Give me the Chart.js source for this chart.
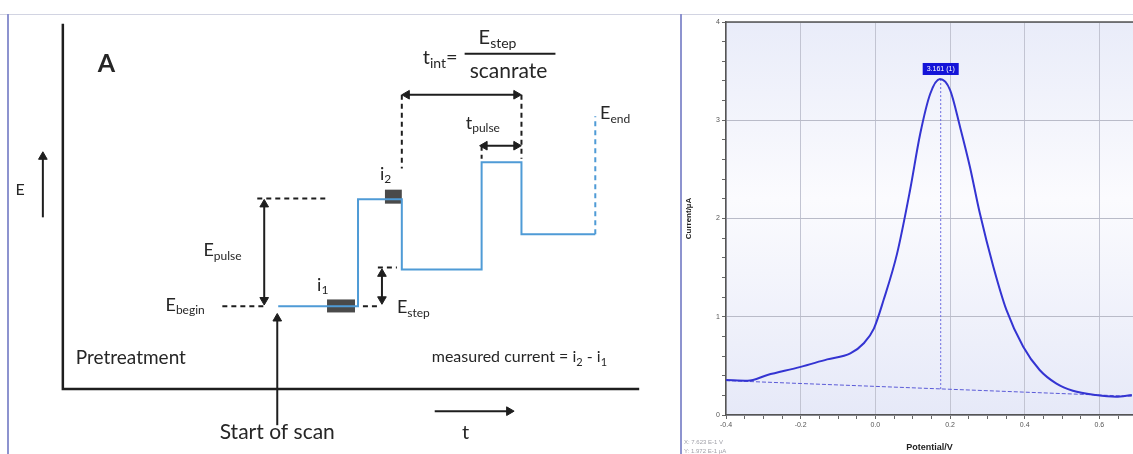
<!DOCTYPE html>
<html>
<head>
<meta charset="utf-8">
<script src="https://cdn.jsdelivr.net/npm/chart.js@4.4.0/dist/chart.umd.min.js"></script>
<style>
  body { margin: 0; background: #fff; width: 1133px; height: 454px; position: relative; overflow: hidden; }
  #topline { position: absolute; left: 0; top: 14px; width: 1133px; height: 1px; background: #d2d4e2; }
  .edge { position: absolute; top: 14px; width: 2px; height: 440px; background: #8d93cf; }
  #wrapA { position: absolute; left: 9px; top: 15px; }
  #wrapB { position: absolute; left: 682px; top: 14px; }
</style>
</head>
<body>
<div id="topline"></div>
<div class="edge" style="left:7px"></div>
<div class="edge" style="left:680px"></div>
<div id="wrapA"><canvas id="chartA" width="671" height="439"></canvas></div>
<div id="wrapB"><canvas id="chartB" width="451" height="440"></canvas></div>

<script>
// ---- Panel A: square wave voltammetry schematic ----
// t in step periods, E in units of E_step
const waveT = [0, 0.667, 0.667, 1.033, 1.033, 1.7, 1.7, 2.033, 2.033, 2.65];
const waveE = [0, 0, 2.9, 2.9, 1, 1, 3.9, 3.9, 1.95, 1.95];
const endT = [2.65, 2.65];
const endE = [1.95, 5.15];
const axisT = [-1.8, -1.8, 3.017];
const axisE = [7.65, -2.24, -2.24];

// sampling windows i1, i2
const i1T = [0.408, 0.642], i1E = [0.01, 0.01];
const i2T = [0.892, 1.033], i2E = [2.97, 2.97];

// dashed guide lines [t1, e1, t2, e2]
const guides = [
  [-0.467, 0, -0.12, 0],
  [-0.175, 2.92, 0.417, 2.92],
  [0.833, 1.05, 0.992, 1.05],
  [0.708, 0, 0.85, 0],
  [1.033, 5.73, 1.033, 3.73],
  [2.033, 5.73, 2.033, 4.0],
  [1.7, 4.35, 1.7, 4.0]
];

// arrows: [t1, e1, t2, e2, headAtStart, headAtEnd]
const arrows = [
  [-1.967, 2.41, -1.967, 4.05, false, true],
  [-0.117, 0.17, -0.117, 2.76, true, true],
  [-0.008, -3.22, -0.008, -0.33, false, true],
  [0.867, 0.19, 0.867, 0.88, true, true],
  [1.075, 5.73, 1.99, 5.73, true, true],
  [1.725, 4.35, 1.99, 4.35, true, true],
  [1.308, -2.84, 1.93, -2.84, false, true]
];

// text: parts [text, isSub]
const labelsA = [
  { parts: [['A', 0]], t: -1.508, e: 6.57, size: 25, bold: true, align: 'left' },
  { parts: [['E', 0]], t: -2.158, e: 3.16, size: 16, align: 'center' },
  { parts: [['E', 0], ['pulse', 1]], t: -0.625, e: 1.51, size: 18, align: 'left' },
  { parts: [['E', 0], ['begin', 1]], t: -0.942, e: 0.03, size: 18, align: 'left' },
  { parts: [['i', 0], ['1', 1]], t: 0.325, e: 0.58, size: 18, align: 'left' },
  { parts: [['i', 0], ['2', 1]], t: 0.85, e: 3.58, size: 18, align: 'left' },
  { parts: [['E', 0], ['step', 1]], t: 0.992, e: -0.03, size: 18, align: 'left' },
  { parts: [['t', 0], ['pulse', 1]], t: 1.567, e: 4.97, size: 18, align: 'left' },
  { parts: [['E', 0], ['end', 1]], t: 2.69, e: 5.22, size: 18, align: 'left' },
  { parts: [['t', 0], ['int', 1], ['=', 0]], t: 1.208, e: 6.73, size: 20, align: 'left' },
  { parts: [['E', 0], ['step', 1]], t: 1.833, e: 7.27, size: 20, align: 'center' },
  { parts: [['scanrate', 0]], t: 1.925, e: 6.38, size: 21, align: 'center' },
  { parts: [['Pretreatment', 0]], t: -1.692, e: -1.41, size: 19, align: 'left' },
  { parts: [['measured current = i', 0], ['2', 1], [' - i', 0], ['1', 1]], t: 1.283, e: -1.38, size: 16, align: 'left' },
  { parts: [['Start of scan', 0]], t: -0.008, e: -3.41, size: 21, align: 'center' },
  { parts: [['t', 0]], t: 1.567, e: -3.43, size: 20, align: 'center' }
];
const fractionT = [1.558, 2.317], fractionE = [6.84, 6.84];

const fontA = 'Lato, "Open Sans", sans-serif';
const blueA = '#4f9bd6';
const inkA = '#1e1e1e';

function pts(ts, es) {
  return ts.map((t, i) => ({ x: t, y: es[i] }));
}

function lineSet(ts, es, color, width, dash) {
  return {
    data: pts(ts, es),
    borderColor: color,
    borderWidth: width,
    borderDash: dash || [],
    borderCapStyle: 'butt',
    pointRadius: 0,
    fill: false,
    tension: 0
  };
}

const datasetsA = [];
datasetsA.push(lineSet(axisT, axisE, inkA, 2.5));
datasetsA.push(lineSet(waveT, waveE, blueA, 2));
datasetsA.push(lineSet(endT, endE, blueA, 2, [5, 4]));
datasetsA.push(lineSet(i1T, i1E, '#4a4a4a', 13));
datasetsA.push(lineSet(i2T, i2E, '#4a4a4a', 14));
datasetsA.push(lineSet(fractionT, fractionE, inkA, 2));
guides.forEach(g => {
  datasetsA.push(lineSet([g[0], g[2]], [g[1], g[3]], inkA, 2, [5, 4]));
});
arrows.forEach(a => {
  const vertical = a[0] === a[2];
  const upOrRight = vertical ? a[3] > a[1] : a[2] > a[0];
  const endRot = vertical ? (upOrRight ? 0 : 180) : (upOrRight ? 90 : 270);
  const startRot = (endRot + 180) % 360;
  const ds = lineSet([a[0], a[2]], [a[1], a[3]], inkA, 2);
  ds.pointStyle = 'triangle';
  ds.pointRadius = [a[4] ? 5 : 0, a[5] ? 5 : 0];
  ds.pointRotation = [startRot, endRot];
  ds.pointBackgroundColor = inkA;
  ds.pointBorderColor = inkA;
  ds.pointBorderWidth = 1;
  datasetsA.push(ds);
});

const labelPluginA = {
  id: 'labelsA',
  afterDatasetsDraw(chart) {
    const ctx = chart.ctx;
    const sx = chart.scales.x, sy = chart.scales.y;
    ctx.save();
    ctx.fillStyle = '#262626';
    ctx.textBaseline = 'middle';
    ctx.textAlign = 'left';
    labelsA.forEach(l => {
      const subSize = Math.round(l.size * 0.68);
      const weight = l.bold ? 'bold ' : '';
      let total = 0;
      const widths = l.parts.map(p => {
        ctx.font = weight + (p[1] ? subSize : l.size) + 'px ' + fontA;
        const w = ctx.measureText(p[0]).width;
        total += w;
        return w;
      });
      let x = sx.getPixelForValue(l.t);
      const y = sy.getPixelForValue(l.e);
      if (l.align === 'center') x -= total / 2;
      l.parts.forEach((p, i) => {
        ctx.font = weight + (p[1] ? subSize : l.size) + 'px ' + fontA;
        ctx.fillText(p[0], x, p[1] ? y + l.size * 0.3 : y);
        x += widths[i];
      });
    });
    ctx.restore();
  }
};

new Chart(document.getElementById('chartA'), {
  type: 'line',
  data: { datasets: datasetsA },
  options: {
    responsive: false,
    animation: false,
    devicePixelRatio: 1,
    layout: { padding: 0, autoPadding: false },
    plugins: { legend: { display: false }, tooltip: { enabled: false } },
    scales: {
      x: { type: 'linear', min: -2.25, max: 3.358, display: false },
      y: { type: 'linear', min: -4.0, max: 7.89, display: false }
    }
  },
  plugins: [labelPluginA]
});

// ---- Panel B: square wave voltammogram ----
const potentials = [-0.4, -0.342, -0.289, -0.2, -0.129, -0.067, -0.031, -0.004, 0.022, 0.058,
  0.093, 0.12, 0.147, 0.173, 0.2, 0.227, 0.253, 0.28, 0.316, 0.351,
  0.396, 0.44, 0.484, 0.529, 0.591, 0.644, 0.687];
const currents = [0.356, 0.349, 0.407, 0.49, 0.566, 0.627, 0.73, 0.88, 1.17, 1.64,
  2.29, 2.86, 3.27, 3.42, 3.31, 2.93, 2.53, 2.05, 1.51, 1.07,
  0.695, 0.458, 0.322, 0.247, 0.203, 0.186, 0.203];
const baselineV = [-0.4, 0.69];
const baselineI = [0.35, 0.19];
const peakV = 0.175;
const peakI = 3.42;
const peakBaseI = 0.264;
const peakText = '3.161 (1)';
const xMajor = ['-0.4', '-0.2', '0.0', '0.2', '0.4', '0.6'];
const yMajor = ['0', '1', '2', '3', '4'];

const fontB = '"Liberation Sans", Arial, sans-serif';
const curveBlue = '#3434d2';

function isMajor(v, step) {
  return Math.abs(v / step - Math.round(v / step)) < 1e-6;
}

const plotDecorB = {
  id: 'plotDecorB',
  beforeDatasetsDraw(chart) {
    const { ctx, chartArea: a } = chart;
    ctx.save();
    const g = ctx.createLinearGradient(0, a.top, 0, a.bottom);
    g.addColorStop(0, '#e9ecf9');
    g.addColorStop(0.45, '#fbfbfe');
    g.addColorStop(1, '#e6e9f8');
    ctx.fillStyle = g;
    ctx.globalCompositeOperation = 'destination-over';
    ctx.fillRect(a.left, a.top, a.right - a.left, a.bottom - a.top);
    ctx.restore();
  },
  afterDraw(chart) {
    const { ctx, chartArea: a } = chart;
    const sx = chart.scales.x, sy = chart.scales.y;
    ctx.save();
    // top frame
    ctx.strokeStyle = '#555';
    ctx.lineWidth = 1.5;
    ctx.beginPath();
    ctx.moveTo(a.left, a.top);
    ctx.lineTo(a.right, a.top);
    ctx.stroke();
    // peak marker label
    const px = sx.getPixelForValue(peakV);
    const py = sy.getPixelForValue(peakI);
    ctx.font = '7px ' + fontB;
    const w = ctx.measureText(peakText).width + 8;
    ctx.fillStyle = '#1414d8';
    ctx.fillRect(px - w / 2, py - 16, w, 12);
    ctx.fillStyle = '#fff';
    ctx.textAlign = 'center';
    ctx.textBaseline = 'middle';
    ctx.fillText(peakText, px, py - 10);
    // cursor readout
    ctx.fillStyle = '#a0a0a8';
    ctx.font = '6px ' + fontB;
    ctx.textAlign = 'left';
    ctx.fillText('X: 7.623 E-1 V', 2, 428);
    ctx.fillText('Y: 1.972 E-1 \u00b5A', 2, 437);
    ctx.restore();
  }
};

new Chart(document.getElementById('chartB'), {
  type: 'line',
  data: {
    datasets: [
      {
        data: pts(potentials, currents),
        borderColor: curveBlue,
        borderWidth: 2,
        pointRadius: 0,
        cubicInterpolationMode: 'monotone',
        fill: false
      },
      {
        data: pts(baselineV, baselineI),
        borderColor: '#5b5bd8',
        borderWidth: 1,
        borderDash: [4, 2],
        pointRadius: 0,
        fill: false
      },
      {
        data: pts([peakV, peakV], [peakBaseI, peakI]),
        borderColor: '#6a6ae0',
        borderWidth: 1,
        borderDash: [2, 2],
        pointRadius: 0,
        fill: false
      }
    ]
  },
  options: {
    responsive: false,
    animation: false,
    devicePixelRatio: 1,
    layout: { padding: { top: 8, right: 0, left: 0, bottom: 0 }, autoPadding: false },
    plugins: { legend: { display: false }, tooltip: { enabled: false } },
    scales: {
      x: {
        type: 'linear',
        min: -0.4,
        max: 0.69,
        afterFit(scale) { scale.height = 39; },
        afterBuildTicks(scale) {
          const t = [];
          for (let k = 0; k <= 21; k++) t.push({ value: Math.round((-0.4 + k * 0.05) * 100) / 100 });
          scale.ticks = t;
        },
        ticks: {
          autoSkip: false,
          maxRotation: 0,
          padding: 2,
          color: '#555',
          font: { size: 7, family: fontB },
          callback(v) {
            if (!isMajor(v, 0.2)) return '';
            return xMajor[Math.round((v + 0.4) / 0.2)];
          }
        },
        grid: {
          color: c => (c.tick && isMajor(c.tick.value, 0.2) ? '#c2c4d2' : 'rgba(0,0,0,0)'),
          tickColor: '#666',
          tickLength: 4,
          lineWidth: 1
        },
        border: { display: true, color: '#555', width: 1.5 },
        title: { display: true, text: 'Potential/V', color: '#222', padding: { top: 0, bottom: 1 }, font: { size: 9, weight: 'bold', family: fontB } }
      },
      y: {
        type: 'linear',
        min: 0,
        max: 4,
        afterFit(scale) { scale.width = 44; },
        afterBuildTicks(scale) {
          const t = [];
          for (let k = 0; k <= 20; k++) t.push({ value: Math.round(k * 0.2 * 10) / 10 });
          scale.ticks = t;
        },
        ticks: {
          autoSkip: false,
          padding: 2,
          color: '#555',
          font: { size: 7, family: fontB },
          callback(v) {
            if (!isMajor(v, 1)) return '';
            return yMajor[Math.round(v)];
          }
        },
        grid: {
          color: c => (c.tick && isMajor(c.tick.value, 1) ? '#b9bbc8' : 'rgba(0,0,0,0)'),
          tickColor: '#666',
          tickLength: 4,
          lineWidth: 1
        },
        border: { display: true, color: '#555', width: 1.5 },
        title: { display: true, text: 'Current/\u00b5A', color: '#222', padding: { top: 2, bottom: 0 }, font: { size: 8, weight: 'bold', family: fontB } }
      }
    }
  },
  plugins: [plotDecorB]
});
</script>
</body>
</html>
